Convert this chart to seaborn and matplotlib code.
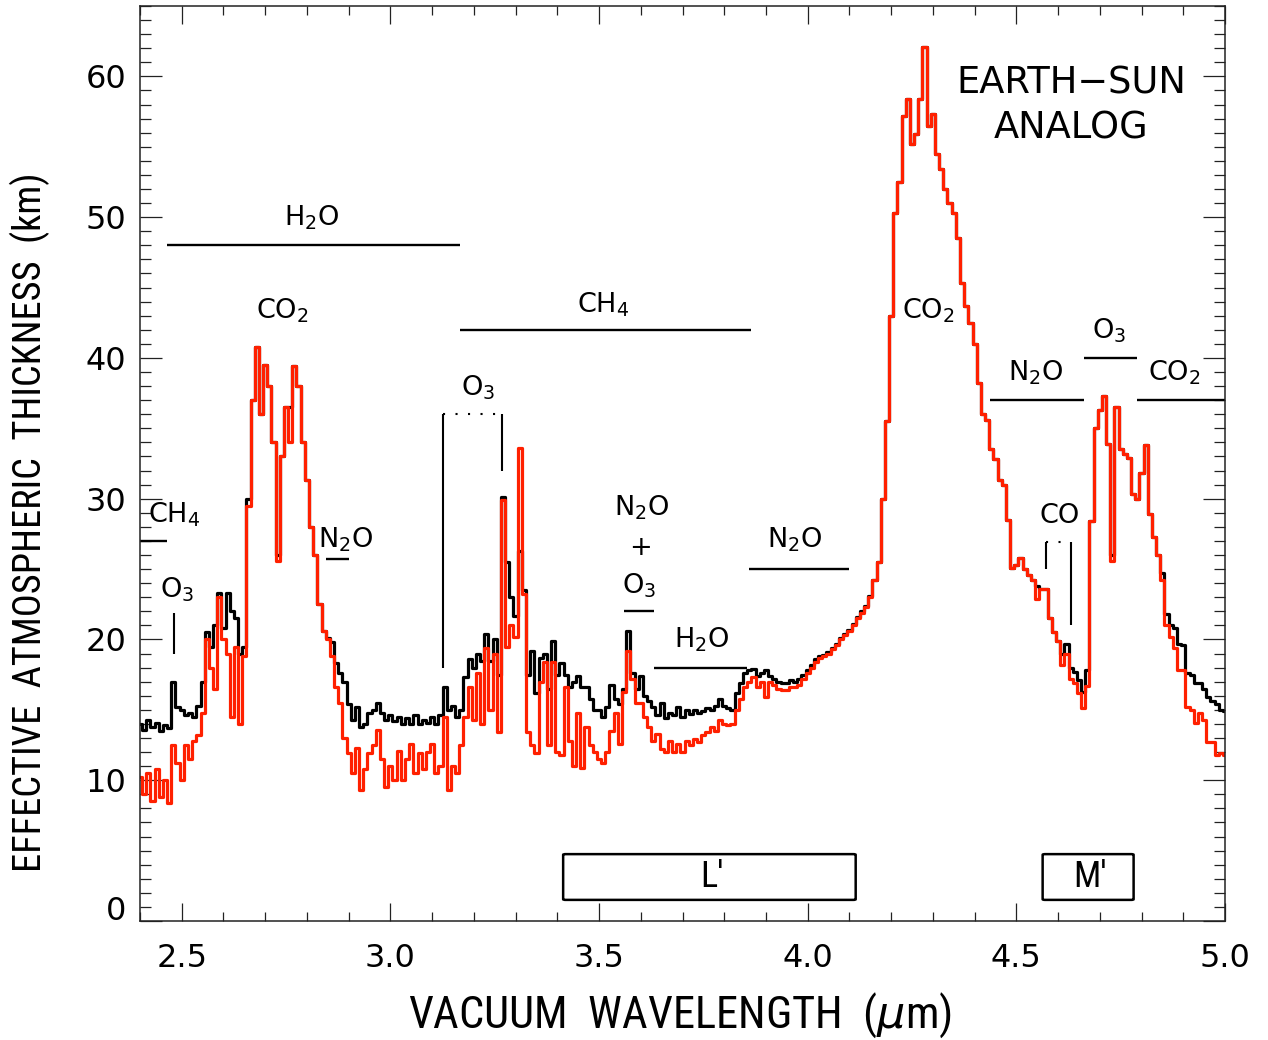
import numpy as np
import pandas as pd
import matplotlib
matplotlib.use("Agg")
import matplotlib.pyplot as plt
import matplotlib.transforms as mtransforms
import seaborn as sns
from matplotlib import font_manager
from matplotlib.patches import FancyBboxPatch
from matplotlib.ticker import MultipleLocator

# ---------------- data ----------------
wavelength_start = 2.40   # micron
wavelength_step = 0.01    # micron

black_km = [
    14.0, 13.6, 14.3, 13.8, 14.1, 13.5, 13.9, 13.7, 17.0, 15.2,   # 2.40
    15.0, 14.6, 14.8, 14.5, 15.3, 17.0, 20.5, 19.5, 21.0, 23.3,   # 2.50
    20.8, 23.3, 22.0, 21.5, 19.0, 19.5, 30.0, 37.0, 40.8, 36.0,   # 2.60
    39.5, 38.0, 34.0, 26.0, 33.0, 36.5, 36.5, 39.4, 38.0, 34.0,   # 2.70
    31.3, 28.0, 26.0, 22.5, 20.6, 20.1, 19.8, 18.3, 17.6, 17.0,   # 2.80
    15.4, 14.3, 15.2, 13.8, 14.0, 14.8, 15.0, 15.5, 14.8, 14.3,   # 2.90
    14.6, 14.2, 14.5, 14.0, 14.4, 14.0, 14.6, 14.0, 14.3, 14.1,   # 3.00
    14.5, 14.0, 14.6, 16.6, 15.0, 15.3, 14.5, 15.0, 17.3, 18.6,   # 3.10
    18.0, 19.0, 18.5, 20.4, 18.5, 20.0, 17.5, 30.1, 25.5, 23.0,   # 3.20
    21.7, 26.3, 23.5, 17.5, 19.2, 16.2, 18.7, 19.0, 16.5, 19.9,   # 3.30
    17.5, 18.3, 17.5, 16.6, 17.0, 17.4, 16.6, 16.6, 15.8, 15.0,   # 3.40
    15.0, 14.5, 15.2, 16.8, 15.8, 15.4, 16.5, 20.6, 17.6, 16.5,   # 3.50
    17.4, 16.0, 15.6, 15.2, 14.6, 15.5, 14.4, 14.8, 14.6, 15.2,   # 3.60
    14.5, 15.0, 14.7, 15.0, 14.8, 14.9, 15.1, 15.0, 15.3, 15.8,   # 3.70
    15.3, 15.1, 15.0, 16.2, 16.9, 17.6, 17.8, 17.9, 17.4, 17.6,   # 3.80
    17.8, 17.4, 17.2, 17.0, 16.9, 16.9, 17.1, 17.0, 17.2, 17.5,   # 3.90
    17.8, 18.2, 18.6, 18.8, 18.9, 19.1, 19.4, 19.7, 20.1, 20.4,   # 4.00
    20.7, 21.1, 21.6, 22.0, 22.4, 23.1, 24.2, 25.5, 30.0, 35.5,   # 4.10
    43.0, 50.3, 52.5, 57.2, 58.4, 55.2, 55.9, 58.4, 62.1, 56.5,   # 4.20
    57.3, 54.5, 53.4, 52.0, 51.0, 50.3, 48.5, 45.3, 43.7, 42.5,   # 4.30
    41.0, 38.2, 36.0, 35.6, 33.5, 32.8, 31.3, 31.0, 28.5, 25.1,   # 4.40
    25.3, 25.8, 25.0, 24.6, 24.2, 23.8, 23.6, 23.6, 21.5, 20.5,   # 4.50
    19.9, 19.0, 19.7, 18.0, 17.7, 17.1, 16.3, 17.8, 28.4, 35.0,   # 4.60
    36.3, 37.3, 33.9, 26.0, 36.5, 33.5, 33.2, 32.9, 30.3, 30.0,   # 4.70
    31.8, 33.8, 28.9, 27.3, 26.0, 24.7, 21.8, 21.0, 20.8, 19.7,   # 4.80
    19.6, 17.6, 17.5, 16.9, 16.9, 16.5, 15.9, 15.6, 15.4, 15.0,   # 4.90
    14.9,                                                         # 5.00
]

red_km = [
    10.2, 9.0, 10.5, 8.5, 10.8, 8.8, 10.0, 8.4, 12.5, 11.2,       # 2.40
    10.0, 12.5, 11.5, 12.8, 13.2, 14.8, 20.0, 18.0, 16.5, 23.0,   # 2.50
    20.0, 19.0, 14.5, 19.5, 14.0, 18.8, 29.5, 37.0, 40.8, 36.0,   # 2.60
    39.5, 38.0, 34.0, 25.6, 33.0, 36.5, 34.0, 39.4, 38.0, 34.0,   # 2.70
    31.3, 28.0, 26.0, 22.5, 20.6, 20.0, 18.8, 16.6, 15.5, 13.0,   # 2.80
    11.9, 10.5, 12.3, 9.3, 10.8, 11.9, 12.5, 13.6, 11.5, 9.5,     # 2.90
    11.0, 10.0, 12.1, 10.0, 11.5, 12.6, 10.5, 11.9, 10.8, 12.0,   # 3.00
    12.6, 10.5, 11.0, 14.5, 9.3, 11.0, 10.5, 12.5, 14.5, 16.6,    # 3.10
    14.3, 17.6, 14.0, 19.4, 15.0, 19.0, 13.4, 29.9, 19.5, 21.0,   # 3.20
    20.2, 33.6, 23.2, 13.4, 12.5, 11.9, 17.0, 18.4, 12.5, 18.4,   # 3.30
    12.0, 11.8, 16.6, 12.8, 11.0, 14.8, 10.9, 13.8, 12.5, 12.0,   # 3.40
    11.5, 11.2, 12.0, 13.5, 14.8, 12.6, 16.3, 19.2, 17.2, 15.5,   # 3.50
    15.5, 14.5, 13.8, 12.8, 13.3, 12.2, 12.0, 12.8, 12.0, 12.6,   # 3.60
    12.0, 12.8, 12.5, 12.9, 12.7, 13.2, 13.4, 13.8, 13.5, 14.3,   # 3.70
    14.0, 13.9, 14.0, 15.0, 15.8, 16.6, 17.0, 17.3, 16.6, 17.0,   # 3.80
    15.9, 17.0, 16.8, 16.5, 16.4, 16.4, 16.6, 16.6, 16.8, 17.2,   # 3.90
    17.6, 18.0, 18.4, 18.7, 18.8, 19.0, 19.3, 19.6, 20.0, 20.3,   # 4.00
    20.6, 21.0, 21.5, 21.9, 22.3, 23.0, 24.2, 25.5, 30.0, 35.5,   # 4.10
    43.0, 50.3, 52.5, 57.2, 58.4, 55.2, 55.9, 58.4, 62.1, 56.5,   # 4.20
    57.3, 54.5, 53.4, 52.0, 51.0, 50.3, 48.5, 45.3, 43.7, 42.5,   # 4.30
    41.0, 38.2, 36.0, 35.6, 33.5, 32.8, 31.3, 31.0, 28.5, 25.1,   # 4.40
    25.3, 25.8, 25.0, 24.6, 24.2, 22.9, 23.6, 23.6, 21.5, 20.5,   # 4.50
    19.9, 18.2, 19.0, 17.2, 16.9, 16.2, 15.1, 16.7, 28.4, 35.0,   # 4.60
    36.3, 37.3, 33.9, 25.6, 36.5, 33.5, 33.2, 32.9, 30.3, 30.0,   # 4.70
    31.8, 33.8, 28.9, 27.3, 26.0, 24.2, 21.0, 20.2, 19.4, 17.8,   # 4.80
    17.8, 15.2, 15.0, 14.1, 14.8, 14.3, 12.7, 12.7, 11.8, 11.9,   # 4.90
    11.8,                                                         # 5.00
]

wavelength = np.round(wavelength_start + wavelength_step * np.arange(len(black_km)), 2)

x_ticks = [2.5, 3.0, 3.5, 4.0, 4.5, 5.0]
x_ticklabels = ["2.5", "3.0", "3.5", "4.0", "4.5", "5.0"]
y_ticks = [0, 10, 20, 30, 40, 50, 60]

# molecule labels: (text, wavelength, baseline value)
molecule_labels = [
    ("H$_2$O", 2.811, 49.4), ("CO$_2$", 2.740, 42.8), ("CH$_4$", 3.510, 43.2),
    ("O$_3$", 3.209, 37.3), ("CH$_4$", 2.481, 28.3), ("O$_3$", 2.488, 23.0),
    ("N$_2$O", 2.893, 26.5), ("N$_2$O", 3.601, 28.8), ("O$_3$", 3.597, 23.3),
    ("H$_2$O", 3.745, 19.4), ("N$_2$O", 3.969, 26.5), ("CO$_2$", 4.288, 42.8),
    ("N$_2$O", 4.546, 38.4), ("O$_3$", 4.723, 41.4), ("CO$_2$", 4.878, 38.4),
    ("CO", 4.604, 28.3),
]
# horizontal band bars: (start, end, level)
band_bars = [
    (2.465, 3.168, 48.0), (3.168, 3.864, 42.0), (2.400, 2.465, 27.0),
    (2.845, 2.902, 25.7), (3.560, 3.632, 22.0), (3.632, 3.855, 18.0),
    (3.860, 4.100, 25.0), (4.438, 4.661, 37.0), (4.663, 4.788, 40.0),
    (4.790, 5.000, 37.0),
]
# vertical marker ticks: (wavelength, low, high)
marker_ticks = [
    (2.481, 19.0, 21.9), (3.127, 18.0, 36.0), (3.268, 32.0, 36.0),
    (4.572, 25.0, 26.9), (4.632, 21.0, 26.9),
]
# dotted bracket tops: (start, end, level)
dotted_tops = [(3.127, 3.268, 36.0), (4.572, 4.632, 26.9)]
# photometric filter bands: (name, start, end)
filters = [("L'", 3.414, 4.115), ("M'", 4.563, 4.781)]

# ---------------- figure ----------------
sns.set_style("ticks")
names = {f.name for f in font_manager.fontManager.ttflist}
narrow = next((n for n in ["Liberation Sans Narrow", "Roboto Condensed",
                           "DejaVu Sans Condensed", "Open Sans Condensed"]
               if n in names), "DejaVu Sans")
plt.rcParams["font.family"] = ["DejaVu Sans"]
plt.rcParams["mathtext.fontset"] = "dejavusans"
for key in ["text.color", "axes.labelcolor", "xtick.color", "ytick.color",
            "xtick.labelcolor", "ytick.labelcolor", "axes.edgecolor"]:
    plt.rcParams[key] = "black"

W, H = 1268, 1040
fig = plt.figure(figsize=(W / 100, H / 100), dpi=100)
ax = fig.add_axes([140 / W, 1 - 921 / H, 1085 / W, 915 / H])

df = pd.concat([
    pd.DataFrame({"wavelength": wavelength, "thickness": black_km, "series": "black"}),
    pd.DataFrame({"wavelength": wavelength, "thickness": red_km, "series": "red"}),
])
sns.lineplot(data=df, x="wavelength", y="thickness", hue="series",
             palette={"black": "black", "red": "#ff2000"},
             drawstyle="steps-mid", linewidth=2.3, legend=False,
             estimator=None, sort=False, ax=ax)

ax.set_xlim(2.4, 5.0)
ax.set_ylim(0, 65)
ax.set_xticks(x_ticks)
ax.set_xticklabels(x_ticklabels)
ax.set_yticks(y_ticks)
ax.xaxis.set_minor_locator(MultipleLocator(0.1))
ax.yaxis.set_minor_locator(MultipleLocator(1))
ax.set_xlabel("")
ax.set_ylabel("")
for s in ax.spines.values():
    s.set_visible(True)
    s.set_linewidth(1.1)
    s.set_color("#222222")
ax.tick_params(which="both", direction="in", top=True, right=True,
               width=0.9, color="#222222", labelcolor="black", labelsize=23)
ax.tick_params(axis="x", which="major", length=13, pad=16)
ax.tick_params(axis="x", which="minor", length=6.5)
ax.tick_params(axis="y", which="major", length=16, pad=10)
ax.tick_params(axis="y", which="minor", length=8)

for txt, xw, yb in molecule_labels:
    ax.text(xw, yb, txt, ha="center", va="baseline", fontsize=19.5, color="black")
ax.text(3.599, 26.5, "+", ha="center", va="center", fontsize=19.5, color="black")
ax.text(4.632, 58.8, "EARTH\u2212SUN", ha="center", va="baseline", fontsize=26.5, color="black")
ax.text(4.632, 55.6, "ANALOG", ha="center", va="baseline", fontsize=26.5, color="black")

for x0, x1, yv in band_bars:
    ax.plot([x0, x1], [yv, yv], color="black", lw=1.7, solid_capstyle="butt")
for xv, y0, y1 in marker_ticks:
    ax.plot([xv, xv], [y0, y1], color="black", lw=1.5, solid_capstyle="butt")
for x0, x1, yv in dotted_tops:
    ax.plot([x0, x1], [yv, yv], color="black", lw=1.5, linestyle=(0, (1, 5)))

for name, x0, x1 in filters:
    box = FancyBboxPatch((x0, 1.5), x1 - x0, 3.25,
                         boxstyle="round,pad=0,rounding_size=0.006",
                         facecolor="white", edgecolor="black", lw=1.8,
                         mutation_aspect=8, zorder=3)
    ax.add_patch(box)
    ax.text((x0 + x1) / 2 + 0.005, 3.1, name, ha="center", va="center",
            fontsize=26, family=[narrow, "DejaVu Sans"], color="black", zorder=4)

ylab = fig.text(30 / W, 1 - 522 / H, "EFFECTIVE  ATMOSPHERIC  THICKNESS  (km)",
                rotation=90, ha="center", va="center", fontsize=26,
                family=[narrow, "DejaVu Sans"], color="black")
xlab = fig.text(680 / W, 1 - 1015 / H, "VACUUM  WAVELENGTH  ($\\mu$m)",
                ha="center", va="center", fontsize=26,
                family=[narrow, "DejaVu Sans"], color="black")

# scale axis labels to the reference extents
fig.canvas.draw()
r = fig.canvas.get_renderer()
h = ylab.get_window_extent(r).height
ylab.set_fontsize(ylab.get_fontsize() * 700 / h)
w = xlab.get_window_extent(r).width
xlab.set_fontsize(xlab.get_fontsize() * 545 / w)

# the "0" label sits slightly raised in the reference
zero_lab = ax.yaxis.get_major_ticks()[0].label1
zero_lab.set_transform(zero_lab.get_transform() +
                       mtransforms.ScaledTranslation(0, 13 / 100, fig.dpi_scale_trans))

fig.savefig("out.png", dpi=100, facecolor="white")
